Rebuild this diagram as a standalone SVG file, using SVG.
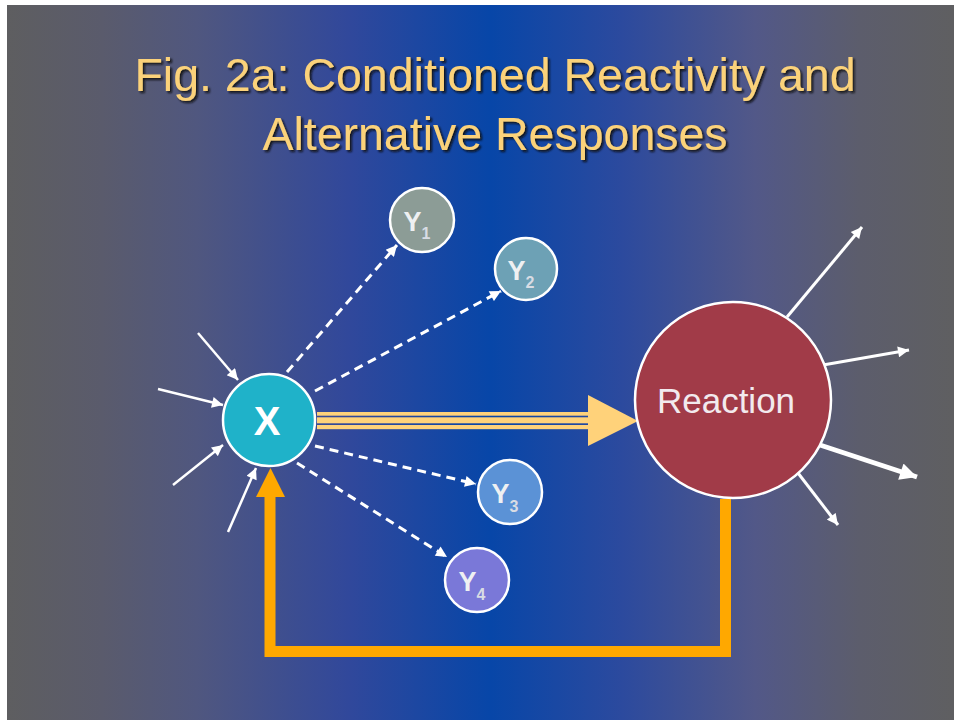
<svg xmlns="http://www.w3.org/2000/svg" width="954" height="721" viewBox="0 0 954 721">
  <defs>
    <linearGradient id="bg" x1="0" y1="0" x2="1" y2="0">
      <stop offset="0" stop-color="#5e5e60"/>
      <stop offset="0.1" stop-color="#5a5b6c"/>
      <stop offset="0.2" stop-color="#50577f"/>
      <stop offset="0.36" stop-color="#31489b"/>
      <stop offset="0.51" stop-color="#0746a8"/>
      <stop offset="0.65" stop-color="#2c4a9e"/>
      <stop offset="0.79" stop-color="#525888"/>
      <stop offset="0.9" stop-color="#5c5d6c"/>
      <stop offset="1" stop-color="#5f5f61"/>
    </linearGradient>
    <filter id="shadow" x="-5%" y="-20%" width="110%" height="140%">
      <feDropShadow dx="2" dy="2" stdDeviation="0.8" flood-color="#111111" flood-opacity="0.9"/>
    </filter>
    <marker id="ah" viewBox="0 0 10 10" refX="10" refY="5" markerWidth="13" markerHeight="11" markerUnits="userSpaceOnUse" orient="auto">
      <path d="M0,0 L10,5 L0,10 z" fill="#ffffff"/>
    </marker>
    <marker id="ahL" viewBox="0 0 10 10" refX="10" refY="5" markerWidth="19" markerHeight="17" markerUnits="userSpaceOnUse" orient="auto">
      <path d="M0,0 L10,5 L0,10 z" fill="#ffffff"/>
    </marker>
    <style>
      .title { font-family: "Liberation Sans", Arial, sans-serif; font-size: 46.5px; fill: #fbd27a; text-anchor: middle; }
      .node { stroke: #ffffff; stroke-width: 2.5; }
      .ylab { font-family: "Liberation Sans", Arial, sans-serif; font-size: 27px; font-weight: bold; fill: #eef0f2; text-anchor: middle; }
      .sub { font-size: 16px; fill: #d8dce4; }
      .in { stroke: #ffffff; stroke-width: 2.5; fill: none; marker-end: url(#ah); }
      .dash { stroke: #ffffff; stroke-width: 3; stroke-dasharray: 9 6; fill: none; marker-end: url(#ah); }
      .out { stroke: #ffffff; stroke-width: 3; fill: none; marker-end: url(#ah); }
      .main { fill: #ffd27a; }
      .fb { stroke: #ffa800; stroke-width: 11; fill: none; stroke-linejoin: miter; }
    </style>
  </defs>

  <rect x="0" y="0" width="954" height="721" fill="#ffffff"/>
  <rect x="7" y="5" width="947" height="715" fill="url(#bg)"/>

  <g id="title" filter="url(#shadow)">
    <text class="title" x="495" y="91">Fig. 2a: Conditioned Reactivity and</text>
    <text class="title" x="495" y="150">Alternative Responses</text>
  </g>

  <g id="connectors">
    <!-- incoming to X -->
    <line class="in" x1="198" y1="333" x2="238" y2="380"/>
    <line class="in" x1="158" y1="389" x2="223" y2="405"/>
    <line class="in" x1="173" y1="485" x2="223" y2="445"/>
    <line class="in" x1="228" y1="532" x2="256" y2="468"/>
    <!-- X to Y -->
    <line class="dash" x1="287" y1="372" x2="397" y2="245"/>
    <line class="dash" x1="315" y1="391" x2="501" y2="291"/>
    <line class="dash" x1="315" y1="446" x2="476" y2="484"/>
    <line class="dash" x1="297" y1="463" x2="447" y2="557"/>
    <!-- main arrow X to Reaction -->
    <g id="edge-x-reaction">
      <rect class="main" x="317" y="412" width="272" height="3.7"/>
      <rect class="main" x="317" y="417.3" width="272" height="6"/>
      <rect class="main" x="317" y="425" width="272" height="4.2"/>
      <polygon class="main" points="588,395 638,421 588,446"/>
    </g>
    <!-- feedback arrow -->
    <g id="edge-feedback">
      <path class="fb" d="M725.5,499 V651.5 H270 V494"/>
      <polygon points="256,497 270.5,468 285,497" fill="#ffa800"/>
    </g>
    <!-- outgoing from Reaction -->
    <line class="out" x1="787" y1="317" x2="862" y2="227"/>
    <line class="out" x1="823" y1="365" x2="909" y2="350"/>
    <line x1="820" y1="445" x2="917" y2="477" stroke="#ffffff" stroke-width="5" marker-end="url(#ahL)"/>
    <line class="out" x1="798" y1="473" x2="838" y2="525"/>
  </g>

  <g id="node-x">
    <circle class="node" cx="269" cy="420" r="46" fill="#1fb2c9"/>
    <text x="267" y="435" font-family="Liberation Sans, Arial, sans-serif" font-size="40" font-weight="bold" fill="#ffffff" text-anchor="middle">X</text>
  </g>

  <g id="node-y1">
    <circle class="node" cx="422" cy="220" r="32" fill="#8c9c96"/>
    <text class="ylab" x="417" y="231">Y<tspan class="sub" dy="8">1</tspan></text>
  </g>
  <g id="node-y2">
    <circle class="node" cx="526" cy="269" r="31" fill="#6da1b5"/>
    <text class="ylab" x="521" y="280">Y<tspan class="sub" dy="8">2</tspan></text>
  </g>
  <g id="node-y3">
    <circle class="node" cx="510" cy="492" r="32" fill="#5b92d6"/>
    <text class="ylab" x="505" y="503">Y<tspan class="sub" dy="9">3</tspan></text>
  </g>
  <g id="node-y4">
    <circle class="node" cx="477" cy="580" r="32" fill="#7a78d8"/>
    <text class="ylab" x="472" y="591">Y<tspan class="sub" dy="9">4</tspan></text>
  </g>

  <g id="node-reaction">
    <circle class="node" cx="733" cy="400" r="98" fill="#a13b48"/>
    <text x="726" y="413" font-family="Liberation Sans, Arial, sans-serif" font-size="35" fill="#f2eaee" text-anchor="middle">Reaction</text>
  </g>
</svg>
